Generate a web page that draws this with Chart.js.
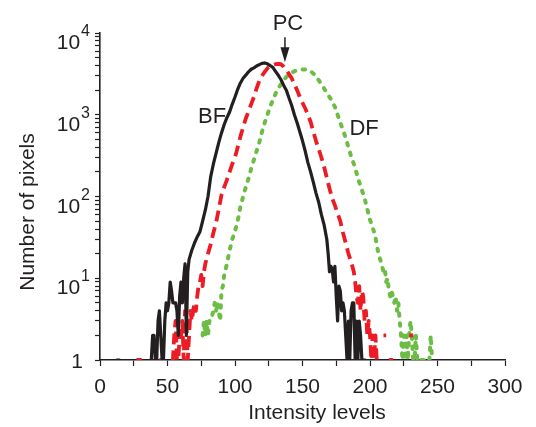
<!DOCTYPE html>
<html>
<head>
<meta charset="utf-8">
<script src="https://cdn.jsdelivr.net/npm/chart.js@4.4.1/dist/chart.umd.min.js"></script>
<style>
  html, body { margin: 0; padding: 0; background: #fff; }
  #wrap { width: 536px; height: 427px; position: relative; }
</style>
</head>
<body>
<div id="wrap"><canvas id="histChart"></canvas></div>
<script>
// intensity level, number of pixels (null = no pixels -> gap on log axis)
const bfCounts = [
  [12,1],[15,1],[16,null],
  [37,1],[38,1],[39,2],[40,2],[41,1],[42,1],[43,3],[44,4],[45,2],[46,1],[47,1],[48,3],[49,5],[50,4],
  [51,5],[52,9],[53,7],[54,5],[55,5],[56,5],[57,4],[58,2],[59,6],[60,9],[61,5],[62,10],[63,15],[64,2],
  [65,12],[66,17],[68,22],[70,27],[72,32],[74,37],[76,50],[78,68],[80,100],[82,175],[84,250],[86,340],
  [88,460],[90,600],[92,760],[94,920],[96,1080],[98,1350],[100,1650],[102,2050],[104,2450],[106,2800],
  [108,3050],[110,3350],[112,3600],[114,3750],[116,3950],[118,4100],[120,4250],[122,4300],[124,4200],
  [126,4000],[128,3800],[130,3400],[132,3050],[134,2700],[136,2300],[138,2000],[140,1600],[142,1300],
  [144,1000],[146,800],[148,620],[150,480],[152,360],[154,260],[156,200],[158,150],[160,110],[162,85],
  [164,60],[166,45],[168,30],[169,20],[170,12],[171,14],[172,13],[173,9],[174,14],[175,6],[176,3],
  [177,8],[178,7],[179,4],[180,5],[181,4],[182,2],[183,1],[184,3],[185,1],[186,4],[187,5],[188,5],
  [189,1],[190,3],[191,1],[192,3],[193,2],[194,1],[195,1],[196,1],[197,1]
];

const pcCounts = [
  [27,1],[29,1],[31,1],[32,null],[44,1],[46,1],[48,1],[49,null],
  [53,1],[54,1],[55,2],[56,3],[57,1],[58,1],[59,2],[60,2],[61,3],[62,1],[63,4],[64,3],[65,1],[66,2],
  [67,4],[68,3],[69,4],[70,5],[71,4],[72,6],[73,8],[74,9],[75,11],[76,8],[77,12],[78,15],[80,20],
  [82,26],[84,36],[86,48],[88,70],[90,105],[92,130],[94,160],[96,200],[98,250],[100,300],[102,400],
  [104,540],[106,700],[108,900],[110,1100],[112,1350],[114,1650],[116,2100],[118,2600],[120,3000],
  [122,3350],[124,3700],[126,3950],[128,4050],[130,4150],[132,4200],[134,4150],[136,3900],[138,3550],
  [140,3150],[142,2800],[144,2350],[146,2000],[148,1650],[150,1400],[152,1200],[154,1000],[156,820],
  [158,620],[160,480],[162,380],[164,300],[166,230],[168,170],[170,125],[172,95],[174,78],[176,62],
  [178,50],[180,36],[182,27],[184,20],[186,16],[188,12],[189,9],[190,6],[191,5],[192,8],[193,4],
  [194,7],[195,6],[196,3],[197,4],[198,2],[199,3],[200,2],[201,1],[202,2],[203,1],[204,2],[205,1],
  [206,1],[207,1],[208,null],[210,2],[212,2],[213,null],[214,1],[217,1],[218,null],[229,2],[232,2]
];

const dfCounts = [
  [76,2],[77,3],[78,2],[79,3],[80,2],[81,3],[82,3],[84,4],[85,5],[86,4],[87,5],[88,4],[89,3],[90,7],
  [91,8],[92,11],[94,15],[96,22],[98,30],[100,38],[102,50],[104,75],[106,100],[108,130],[110,165],
  [112,220],[114,280],[116,360],[118,460],[120,620],[122,800],[124,1000],[126,1250],[128,1500],
  [130,1800],[132,2100],[134,2350],[136,2650],[138,2900],[140,3100],[142,3250],[144,3400],[146,3500],
  [148,3550],[150,3580],[152,3580],[154,3550],[156,3400],[158,3200],[160,2950],[162,2650],[164,2350],
  [166,2100],[168,1850],[170,1650],[172,1450],[174,1250],[176,1000],[178,800],[180,650],[182,520],
  [184,400],[186,310],[188,250],[190,195],[192,150],[194,120],[196,95],[198,70],[200,52],[202,42],
  [204,32],[206,21],[208,16],[210,12],[211,13],[212,9],[213,10],[214,7],[215,6],[216,7],[218,5],
  [219,6],[220,4],[221,5],[222,3],[223,2],[224,1],[225,2],[226,1],[227,2],[228,1],[229,2],[230,3],
  [231,2],[232,1],[233,1],[234,2],[235,1],[236,1],[237,null],[238,1],[240,1],[241,null],[244,1],
  [245,2],[246,1]
];

const xTickStep = 25;        // minor ticks every 25, labels every 50
const xLabelStep = 50;
const yMajorTicks = [1, 10, 100, 1000, 10000];
const yAllTicks = [];
yMajorTicks.forEach((m, i) => {
  if (i === yMajorTicks.length - 1) { yAllTicks.push(m); return; }
  for (let k = 1; k < 10; k++) yAllTicks.push(m * k);
});

const ink = '#231f20';
const FONT = '"Liberation Sans", Arial, Helvetica, sans-serif';
Chart.defaults.font.family = FONT;
Chart.defaults.color = ink;

const toPoints = arr => arr.map(p => ({ x: p[0], y: p[1] }));

// tick labels with exponents, axis titles and curve labels
const figText = {
  id: 'figText',
  afterDraw(chart) {
    const { ctx, scales: { x, y } } = chart;
    ctx.save();
    ctx.fillStyle = ink;

    yMajorTicks.forEach(v => {
      const py = y.getPixelForValue(v);
      if (v === 1) {
        ctx.font = '21px ' + FONT;
        ctx.textAlign = 'right';
        ctx.textBaseline = 'alphabetic';
        ctx.fillText('1', 83, py + 8);
        return;
      }
      const exp = String(Math.round(Math.log10(v)));
      ctx.textAlign = 'right';
      ctx.textBaseline = 'alphabetic';
      ctx.font = '16px ' + FONT;
      ctx.fillText(exp, 90, py + 3);
      const w = ctx.measureText(exp).width;
      ctx.font = '21px ' + FONT;
      ctx.fillText('10', 90 - w - 1, py + 16);
    });

    // axis titles
    ctx.font = '21px ' + FONT;
    ctx.textAlign = 'center';
    ctx.textBaseline = 'alphabetic';
    ctx.fillText('Intensity levels', 317, 419);
    ctx.save();
    ctx.translate(34, 212);
    ctx.rotate(-Math.PI / 2);
    ctx.fillText('Number of pixels', 0, 0);
    ctx.restore();

    // curve labels
    ctx.font = '22px ' + FONT;
    ctx.fillText('BF', x.getPixelForValue(83), y.getPixelForValue(794));
    ctx.fillText('DF', x.getPixelForValue(195.6), y.getPixelForValue(565));

    // PC with arrow
    const ax = x.getPixelForValue(137);
    const tip = y.getPixelForValue(4400);
    ctx.fillText('PC', ax + 3, tip - 32);
    ctx.strokeStyle = ink;
    ctx.lineWidth = 1.5;
    ctx.beginPath();
    ctx.moveTo(ax, tip - 25);
    ctx.lineTo(ax, tip - 12);
    ctx.stroke();
    ctx.beginPath();
    ctx.moveTo(ax - 4.5, tip - 15);
    ctx.lineTo(ax + 4.5, tip - 15);
    ctx.lineTo(ax, tip);
    ctx.closePath();
    ctx.fill();

    ctx.restore();
  }
};

new Chart(document.getElementById('histChart'), {
  type: 'line',
  data: {
    datasets: [
      {
        label: 'BF',
        data: toPoints(bfCounts),
        borderColor: '#231f20',
        borderWidth: 3.2,
        borderJoinStyle: 'round',
        pointRadius: 0,
        tension: 0
      },
      {
        label: 'PC',
        data: toPoints(pcCounts),
        borderColor: '#ed1c24',
        borderWidth: 3.8,
        borderDash: [11, 6],
        borderJoinStyle: 'round',
        pointRadius: 0,
        tension: 0
      },
      {
        label: 'DF',
        data: toPoints(dfCounts),
        borderColor: '#6cbd45',
        borderWidth: 4,
        borderDash: [2.5, 7.5],
        borderCapStyle: 'round',
        borderJoinStyle: 'round',
        pointRadius: 0,
        tension: 0
      }
    ]
  },
  options: {
    responsive: true,
    maintainAspectRatio: false,
    animation: false,
    events: [],
    layout: { padding: { top: 33, right: 31, left: 0, bottom: 0 } },
    plugins: {
      legend: { display: false },
      tooltip: { enabled: false }
    },
    scales: {
      x: {
        type: 'linear',
        min: 0,
        max: 300,
        afterFit: s => { s.height = 67; },
        grid: { drawOnChartArea: false, drawTicks: true, tickLength: 6, color: ink, tickWidth: 1.2 },
        border: { display: true, color: ink, width: 1.6 },
        ticks: {
          stepSize: xTickStep,
          autoSkip: false,
          maxRotation: 0,
          padding: 9,
          font: { size: 21 },
          color: ink,
          callback: v => (v % xLabelStep === 0 ? String(v) : '')
        }
      },
      y: {
        type: 'logarithmic',
        min: 1,
        max: 10000,
        afterFit: s => { s.width = 100; },
        afterBuildTicks: s => { s.ticks = yAllTicks.map(v => ({ value: v })); },
        grid: { drawOnChartArea: false, drawTicks: true, tickLength: 5, color: ink, tickWidth: 1.2 },
        border: { display: true, color: ink, width: 1.6 },
        ticks: { display: false, autoSkip: false }
      }
    }
  },
  plugins: [figText]
});
</script>
</body>
</html>
